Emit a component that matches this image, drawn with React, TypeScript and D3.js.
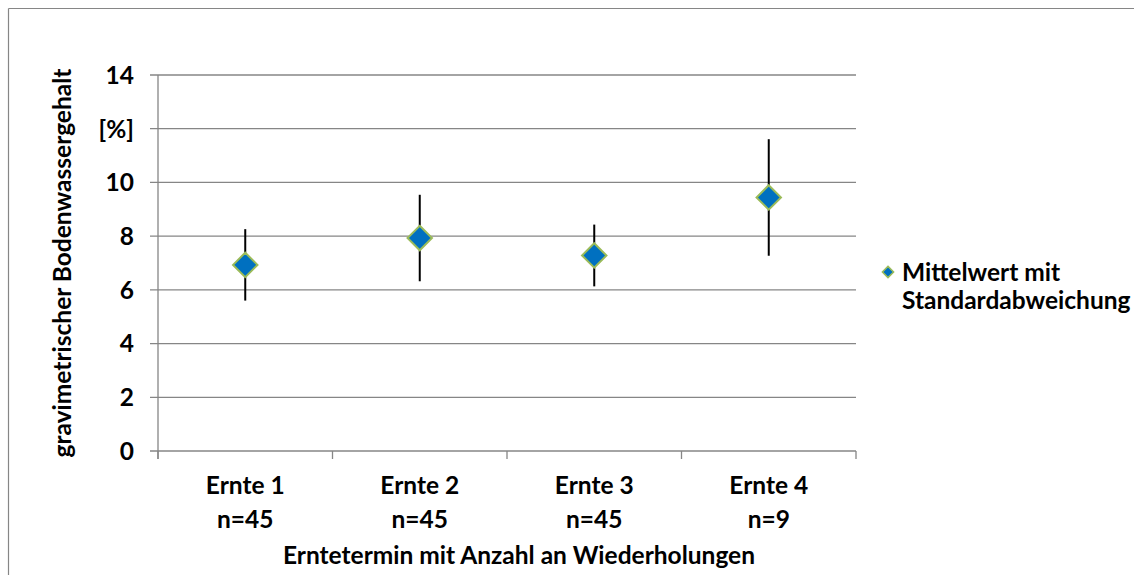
import React from "react";
import * as d3 from "d3";

const categories = ["Ernte 1", "Ernte 2", "Ernte 3", "Ernte 4"];
const sampleSizes = ["n=45", "n=45", "n=45", "n=9"];
const means = [6.93, 7.93, 7.28, 9.44];
const stdDevs = [1.33, 1.61, 1.15, 2.17];
const yTicks = [0, 2, 4, 6, 8, 10, 12, 14];
const yTickLabels = ["0", "2", "4", "6", "8", "10", "[%]", "14"];
const legendLines = ["Mittelwert mit", "Standardabweichung"];
const yTitle = "gravimetrischer Bodenwassergehalt";
const xTitle = "Erntetermin mit Anzahl an Wiederholungen";

const W = 1134;
const H = 575;
const FONT = "Lato, 'Open Sans', sans-serif";
const FS = 24.5;
const GRID = "#868686";

export default function App() {
  const left = 158, right = 856, top = 75, bottom = 451;
  const x = d3.scaleBand<string>().domain(categories).range([left, right]).padding(0);
  const y = d3.scaleLinear().domain([0, 14]).range([bottom, top]);
  const diamond = d3.symbol(d3.symbolDiamond2 ?? d3.symbolSquare, 380)();
  const legendDiamond = d3.symbol(d3.symbolDiamond2 ?? d3.symbolSquare, 80)();
  const boundaries = [...categories.map((c) => x(c) as number), right];

  return (
    <svg width={W} height={H} style={{ position: "absolute", left: 0, top: 0, display: "block" }}>
      <rect x={0} y={0} width={W} height={H} fill="#fff" />
      {/* chart frame */}
      <line x1={8.5} y1={8.5} x2={W} y2={8.5} stroke={GRID} strokeWidth={1.2} />
      <line x1={8.5} y1={8.5} x2={8.5} y2={H} stroke={GRID} strokeWidth={1.2} />

      {/* gridlines */}
      {yTicks.map((t) => (
        <line key={"g" + t} x1={left - 8} x2={right} y1={y(t)} y2={y(t)} stroke={GRID} strokeWidth={1.3} />
      ))}
      {/* y axis */}
      <line x1={left} x2={left} y1={top} y2={bottom + 8} stroke={GRID} strokeWidth={1.3} />
      {boundaries.map((b, i) => (
        <line key={"xt" + i} x1={b} x2={b} y1={bottom} y2={bottom + 8} stroke={GRID} strokeWidth={1.3} />
      ))}

      {/* y tick labels */}
      {yTicks.map((t, i) => (
        <text key={"yl" + t} x={134} y={y(t)} dy="0.36em" textAnchor="end" fontFamily={FONT} fontWeight={700} fontSize={FS} fill="#000">
          {yTickLabels[i]}
        </text>
      ))}

      {/* x tick labels */}
      {categories.map((c, i) => {
        const cx = (x(c) as number) + x.bandwidth() / 2;
        return (
          <g key={"xl" + c}>
            <text x={cx} y={494} textAnchor="middle" fontFamily={FONT} fontWeight={700} fontSize={FS} fill="#000">{c}</text>
            <text x={cx} y={528} textAnchor="middle" fontFamily={FONT} fontWeight={700} fontSize={FS} fill="#000">{sampleSizes[i]}</text>
          </g>
        );
      })}

      {/* titles */}
      <text x={(left + right) / 2 + 12} y={564} textAnchor="middle" fontFamily={FONT} fontWeight={700} fontSize={FS} fill="#000">{xTitle}</text>
      <text transform={`translate(71,${(top + bottom) / 2}) rotate(-90)`} textAnchor="middle" fontFamily={FONT} fontWeight={700} fontSize={FS} fill="#000">{yTitle}</text>

      {/* error bars */}
      {categories.map((c, i) => {
        const cx = (x(c) as number) + x.bandwidth() / 2;
        return (
          <line key={"e" + c} x1={cx} x2={cx} y1={y(means[i] + stdDevs[i])} y2={y(means[i] - stdDevs[i])} stroke="#000" strokeWidth={2} />
        );
      })}
      {/* markers */}
      {categories.map((c, i) => {
        const cx = (x(c) as number) + x.bandwidth() / 2;
        return (
          <path key={"m" + c} d={diamond as string} transform={`translate(${cx},${y(means[i])})`} fill="#0070C0" stroke="#9BBB59" strokeWidth={2} />
        );
      })}

      {/* legend */}
      <path d={legendDiamond as string} transform="translate(888,272)" fill="#0070C0" stroke="#9BBB59" strokeWidth={1.5} />
      {legendLines.map((l, i) => (
        <text key={"lg" + i} x={902} y={281 + i * 28} fontFamily={FONT} fontWeight={700} fontSize={FS} fill="#000">{l}</text>
      ))}
    </svg>
  );
}
